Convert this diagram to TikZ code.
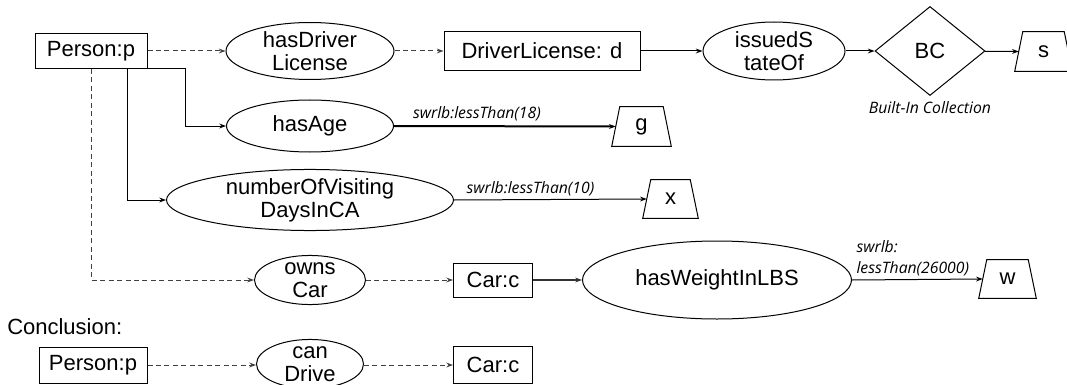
\documentclass[tikz,border=0pt]{standalone}
\usepackage{fontspec}
\setmainfont{Liberation Sans}
\newfontfamily\lblfont{Open Sans}
\usetikzlibrary{shapes.geometric,arrows.meta,calc}
\newcommand{\traplines}[1]{\draw[line width=0.75pt] (#1.south west) -- (#1.south east) -- ($(#1.north east)+(-8,0)$) -- ($(#1.north west)+(8,0)$) -- cycle;}
\begin{document}
\begin{tikzpicture}[x=0.75pt,y=-0.75pt,
  every node/.style={font=\fontsize{16.5}{17}\selectfont},
  box/.style={draw, rectangle, inner sep=0pt, line width=0.75pt},
  oval/.style={draw, ellipse, inner sep=0pt, align=center, line width=0.75pt},
  trapbox/.style={rectangle, inner sep=0pt},
  bc/.style={draw, diamond, inner sep=0pt, line width=0.75pt},
  lbl/.style={font=\lblfont\itshape\fontsize{11.8}{15.5}\selectfont, inner sep=0pt, align=left},
  arr/.style={-{Stealth[length=5pt,width=3.6pt]}, line width=0.75pt},
  darr/.style={arr, draw=black!75, dash pattern=on 3.75pt off 2.6pt}
]
\useasboundingbox (0,0) rectangle (1067,385);
% row 1
\node[box, minimum width=0.75*112pt, minimum height=0.75*35pt] (P) at (91,51) {Person:p};
\node[oval, minimum width=0.75*168pt, minimum height=0.75*57pt] (hdl) at (310,51) {hasDriver\\License};
\node[box, minimum width=0.75*196pt, minimum height=0.75*39pt] (dl) at (542,51) {DriverLicense: d};
\node[oval, minimum width=0.75*142pt, minimum height=0.75*58pt] (iso) at (774,51) {issuedS\\tateOf};
\node[bc, minimum width=0.75*110pt, minimum height=0.75*89pt] (BC) at (930,51) {BC};
\node[lbl] (bcl) at (930,108) {Built-In Collection};
\node[trapbox, minimum width=0.75*57pt, minimum height=0.75*39pt] (s) at (1043.5,51.5) {s};
% row 2
\node[oval, minimum width=0.75*167pt, minimum height=0.75*52pt] (age) at (310,126) {hasAge};
\node[trapbox, minimum width=0.75*59pt, minimum height=0.75*39pt] (g) at (641.5,126.5) {g};
% row 3
\node[oval, minimum width=0.75*287pt, minimum height=0.75*56pt] (num) at (310,200) {numberOfVisiting\\DaysInCA};
\node[trapbox, minimum width=0.75*55pt, minimum height=0.75*38pt] (xx) at (670.5,199) {x};
% row 4
\node[oval, minimum width=0.75*111pt, minimum height=0.75*44pt] (own) at (310,280) {owns\\Car};
\node[box, minimum width=0.75*79pt, minimum height=0.75*34pt] (car) at (493,280) {Car:c};
\node[oval, minimum width=0.75*269pt, minimum height=0.75*78pt] (hw) at (717,280) {hasWeightInLBS};
\node[trapbox, minimum width=0.75*57pt, minimum height=0.75*38pt] (w) at (1007.5,279) {w};
% conclusion
\node[anchor=west, inner sep=0pt] (conc) at (7,327) {Conclusion:};
\node[box, minimum width=0.75*108pt, minimum height=0.75*36pt] (P2) at (93,365) {Person:p};
\node[oval, minimum width=0.75*107pt, minimum height=0.75*48pt] (cd) at (310,364) {can\\Drive};
\node[box, minimum width=0.75*79pt, minimum height=0.75*37pt] (car2) at (493,365) {Car:c};
% trapezoid outlines
\traplines{s}
\traplines{g}
\traplines{xx}
\traplines{w}
% connectors
\draw[darr] (P) -- (hdl);
\draw[darr] (hdl) -- (dl);
\draw[arr] (dl) -- (iso);
\draw[arr] (iso) -- (BC);
\draw[arr] (BC) -- ($(s.west)+(4,0)$);
\draw[arr] (P.south east) -- ++(38,0) |- (age.west);
\draw[arr] ($(P.south)+(36,0)$) |- (num.west);
\draw[darr] (P.south) |- (own.west);
\draw[arr, line width=1.5pt] (age.east) -- ($(g.west)+(4,0)$) node[lbl, pos=0, anchor=south west, xshift=13.5pt, yshift=3pt] (l18) {swrlb:lessThan(18)};
\draw[arr] (num.east) -- ($(xx.west)+(4,0)$) node[lbl, pos=0, anchor=south west, xshift=9pt, yshift=3pt] (l10) {swrlb:lessThan(10)};
\draw[darr] (own) -- (car);
\draw[arr, line width=1.1pt, draw=black!80] (car) -- (hw);
\draw[arr] (hw.east) -- ($(w.west)+(4,0)$) node[lbl, pos=0, anchor=south west, xshift=3pt, yshift=3pt] (l26) {swrlb:\\lessThan(26000)};
\draw[darr] (P2.east) -- (P2.east -| cd.west);
\draw[darr] (cd.east |- car2.west) -- (car2.west);
\end{tikzpicture}
\end{document}
